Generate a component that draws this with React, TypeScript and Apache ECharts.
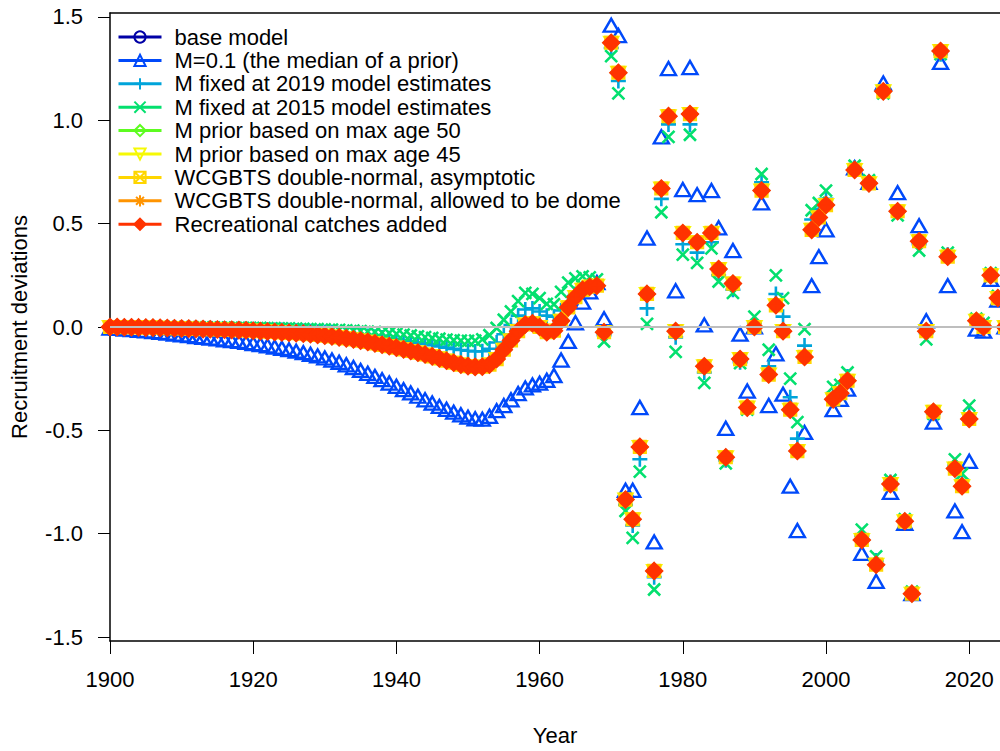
import React, { useEffect, useRef } from 'react';
import * as echarts from 'echarts';

const FIRST_YEAR = 1900;

const seriesNames = [
  'base model',
  'M=0.1 (the median of a prior)',
  'M fixed at 2019 model estimates',
  'M fixed at 2015 model estimates',
  'M prior based on max age 50',
  'M prior based on max age 45',
  'WCGBTS double-normal, asymptotic',
  'WCGBTS double-normal, allowed to be dome',
  'Recreational catches added',
];

const seriesColors = ['#0000A6', '#0049FA', '#00A4DA', '#03E06E', '#5DFC20', '#F6F905', '#FFD600', '#FF9400', '#FF3300'];

// early (1900-1969) recruitment deviations
const earlyBase = [
  0.000, 0.000, -0.001, -0.001, -0.002, -0.003, -0.003, -0.004, -0.005, -0.006,
  -0.007, -0.008, -0.009, -0.010, -0.011, -0.012, -0.013, -0.014, -0.015, -0.016,
  -0.018, -0.020, -0.022, -0.024, -0.026, -0.028, -0.030, -0.032, -0.035, -0.038,
  -0.042, -0.046, -0.050, -0.055, -0.060, -0.066, -0.072, -0.079, -0.086, -0.093,
  -0.100, -0.108, -0.116, -0.124, -0.133, -0.142, -0.152, -0.163, -0.173, -0.182,
  -0.189, -0.193, -0.192, -0.182, -0.155, -0.110, -0.065, -0.020, 0.012, 0.018,
  0.000, -0.025, -0.018, 0.030, 0.095, 0.145, 0.180, 0.195, 0.200, -0.025,
];
const earlyM01 = [
  -0.005, -0.007, -0.010, -0.013, -0.016, -0.019, -0.022, -0.026, -0.030, -0.034,
  -0.038, -0.042, -0.046, -0.050, -0.054, -0.058, -0.062, -0.066, -0.070, -0.075,
  -0.080, -0.085, -0.091, -0.097, -0.103, -0.110, -0.117, -0.124, -0.132, -0.140,
  -0.150, -0.160, -0.171, -0.183, -0.196, -0.210, -0.224, -0.239, -0.255, -0.271,
  -0.287, -0.303, -0.319, -0.335, -0.352, -0.368, -0.384, -0.398, -0.412, -0.425,
  -0.436, -0.444, -0.446, -0.432, -0.405, -0.380, -0.352, -0.322, -0.295, -0.280,
  -0.272, -0.258, -0.235, -0.160, -0.070, 0.020, 0.120, 0.170, 0.215, 0.040,
];
const earlyFix2019 = [
  0.000, 0.000, 0.000, -0.001, -0.001, -0.002, -0.002, -0.003, -0.003, -0.004,
  -0.004, -0.005, -0.005, -0.006, -0.006, -0.007, -0.008, -0.008, -0.009, -0.010,
  -0.011, -0.012, -0.013, -0.014, -0.015, -0.016, -0.018, -0.019, -0.021, -0.023,
  -0.025, -0.027, -0.030, -0.033, -0.036, -0.039, -0.043, -0.047, -0.051, -0.055,
  -0.060, -0.065, -0.070, -0.076, -0.082, -0.088, -0.094, -0.100, -0.106, -0.111,
  -0.115, -0.118, -0.117, -0.105, -0.075, -0.035, 0.010, 0.055, 0.085, 0.090,
  0.075, 0.055, 0.050, 0.080, 0.120, 0.160, 0.185, 0.195, 0.200, -0.040,
];
const earlyFix2015 = [
  0.000, 0.000, 0.000, 0.000, 0.000, 0.000, -0.001, -0.001, -0.001, -0.001,
  -0.002, -0.002, -0.002, -0.002, -0.003, -0.003, -0.003, -0.004, -0.004, -0.004,
  -0.005, -0.005, -0.006, -0.006, -0.007, -0.007, -0.008, -0.009, -0.010, -0.011,
  -0.012, -0.013, -0.014, -0.016, -0.018, -0.020, -0.022, -0.024, -0.027, -0.030,
  -0.033, -0.037, -0.041, -0.045, -0.049, -0.053, -0.057, -0.061, -0.064, -0.066,
  -0.067, -0.066, -0.060, -0.040, -0.005, 0.035, 0.075, 0.125, 0.165, 0.160,
  0.140, 0.112, 0.110, 0.170, 0.215, 0.235, 0.245, 0.240, 0.230, -0.070,
];

// main (1970-2025) recruitment deviations
const mainBase = [
  1.375, 1.23, -0.835, -0.93, -0.58, 0.16, -1.18, 0.67, 1.02, -0.02,
  0.455, 1.03, 0.41, -0.19, 0.455, 0.28, -0.63, 0.21, -0.155, -0.39,
  0.00, 0.66, -0.23, 0.105, -0.02, -0.40, -0.60, -0.145, 0.47, 0.53,
  0.59, -0.35, -0.32, -0.26, 0.76, -1.03, 0.695, -1.15, 1.14, -0.76,
  0.56, -0.94, -1.29, 0.415, -0.02, -0.41, 1.335, 0.34, -0.685, -0.77,
  -0.445, 0.03, 0.00, 0.25, 0.14, 0.00,
];
const mainM01 = [
  1.46, 1.41, -0.79, -0.79, -0.39, 0.43, -1.04, 0.92, 1.25, 0.175,
  0.665, 1.255, 0.64, 0.01, 0.66, 0.48, -0.49, 0.37, -0.035, -0.31,
  0.00, 0.60, -0.38, -0.13, -0.325, -0.77, -0.985, -0.51, 0.20, 0.34,
  0.47, -0.40, -0.35, -0.30, 0.77, -1.095, 0.70, -1.23, 1.18, -0.80,
  0.65, -0.95, -1.29, 0.49, 0.03, -0.46, 1.28, 0.20, -0.89, -0.99,
  -0.65, -0.01, -0.02, 0.23, 0.13, 0.00,
];
const mainFix2019 = [
  1.35, 1.19, -0.86, -0.96, -0.64, 0.09, -1.21, 0.62, 0.98, -0.05,
  0.40, 0.98, 0.36, -0.22, 0.41, 0.25, -0.645, 0.18, -0.17, -0.39,
  0.02, 0.70, -0.19, 0.16, 0.05, -0.34, -0.54, -0.09, 0.52, 0.57,
  0.62, -0.32, -0.30, -0.24, 0.77, -1.01, 0.70, -1.13, 1.14, -0.75,
  0.56, -0.94, -1.29, 0.40, -0.03, -0.42, 1.32, 0.35, -0.67, -0.74,
  -0.42, 0.03, 0.01, 0.25, 0.14, 0.00,
];
const mainFix2015 = [
  1.31, 1.13, -0.89, -1.02, -0.70, 0.015, -1.27, 0.555, 0.92, -0.12,
  0.35, 0.93, 0.31, -0.27, 0.38, 0.22, -0.66, 0.165, -0.175, -0.40,
  0.05, 0.74, -0.11, 0.25, 0.14, -0.25, -0.46, -0.01, 0.565, 0.60,
  0.66, -0.29, -0.28, -0.22, 0.78, -0.98, 0.71, -1.11, 1.13, -0.74,
  0.54, -0.93, -1.28, 0.37, -0.06, -0.42, 1.32, 0.36, -0.64, -0.71,
  -0.38, 0.04, 0.02, 0.26, 0.15, 0.00,
];

const xTickValues = [1900, 1920, 1940, 1960, 1980, 2000, 2020];
const yTickValues = [-1.5, -1.0, -0.5, 0, 0.5, 1.0, 1.5];

const FONT = "'Liberation Sans', Arial, Helvetica, sans-serif";

const SYM_PLUS = 'path://M5,0L5,10M0,5L10,5';
const SYM_CROSS = 'path://M0,0L10,10M10,0L0,10';
const SYM_INVTRI = 'path://M0,0L10,0L5,8.66Z';
const SYM_SQX = 'path://M0,0L10,0L10,10L0,10ZM0,0L10,10M10,0L0,10';
const SYM_STAR = 'path://M5,0L5,10M0,5L10,5M1.5,1.5L8.5,8.5M8.5,1.5L1.5,8.5';
const SYM_DIAPLUS = 'path://M5,0L10,5L5,10L0,5ZM5,0L5,10M0,5L10,5';

function toPairs(early: number[], main: number[]) {
  return early.concat(main).map((v, i) => [FIRST_YEAR + i, v]);
}

export default function App() {
  const ref = useRef<HTMLDivElement>(null);
  useEffect(() => {
    if (!ref.current) return;
    const chart = echarts.init(ref.current, undefined, { renderer: 'svg' });

    const baseData = toPairs(earlyBase, mainBase);
    const dataSets = [
      baseData,
      toPairs(earlyM01, mainM01),
      toPairs(earlyFix2019, mainFix2019),
      toPairs(earlyFix2015, mainFix2015),
      baseData,
      baseData,
      baseData,
      baseData,
      baseData,
    ];
    const symbols: any[] = ['circle', 'triangle', SYM_PLUS, SYM_CROSS, 'diamond', SYM_INVTRI, SYM_SQX, SYM_STAR, SYM_DIAPLUS];
    const sizes: any[] = [11, [15, 13], 15, 12, 15, [14, 12], 12, 14, 17];
    const filled = [false, false, false, false, false, false, false, false, true];
    const borderW = [2, 2.4, 2.6, 2.6, 2.2, 2.2, 2.2, 2.2, 1.5];

    const series: any[] = seriesNames.map((name, i) => {
      const col = seriesColors[i];
      const s: any = {
        name,
        type: 'line',
        data: dataSets[i],
        xAxisIndex: 0,
        yAxisIndex: 0,
        symbol: symbols[i],
        symbolSize: sizes[i],
        showSymbol: true,
        showAllSymbol: true,
        clip: false,
        silent: true,
        lineStyle: { color: col, width: 3, opacity: 0 },
        itemStyle: {
          color: filled[i] ? col : 'rgba(0,0,0,0)',
          borderColor: col,
          borderWidth: borderW[i],
        },
        emphasis: { disabled: true },
      };
      if (i === 0) {
        s.markLine = {
          silent: true,
          symbol: ['none', 'none'],
          label: { show: false },
          lineStyle: { color: '#BEBEBE', width: 2, type: 'solid' },
          data: [{ yAxis: 0 }],
        };
      }
      return s;
    });

    chart.setOption({
      animation: false,
      backgroundColor: '#ffffff',
      grid: { left: 109, right: 0, top: 13, bottom: 108 },
      legend: {
        orient: 'vertical',
        left: 112,
        top: 21,
        itemWidth: 43,
        itemHeight: 14,
        itemGap: 1.4,
        selectedMode: false,
        textStyle: { fontSize: 22, fontFamily: FONT, color: '#000', lineHeight: 22, padding: [0, 0, 0, 8] },
        lineStyle: { width: 3, opacity: 1 },
        data: seriesNames,
      },
      xAxis: [
        {
          type: 'value',
          min: 1900,
          max: 2024.3,
          position: 'bottom',
          name: 'Year',
          nameLocation: 'middle',
          nameGap: 83,
          nameTextStyle: { fontSize: 22, fontFamily: FONT, color: '#000' },
          axisLine: { show: true, onZero: false, lineStyle: { color: '#000', width: 1.5 } },
          axisTick: { show: true, length: 13, customValues: xTickValues, lineStyle: { color: '#000', width: 1 } },
          axisLabel: {
            show: true,
            customValues: xTickValues,
            margin: 27,
            fontSize: 22,
            fontFamily: FONT,
            color: '#000',
            formatter: (v: number) => String(Math.round(v)),
          },
          splitLine: { show: false },
        },
        {
          type: 'value',
          min: 1900,
          max: 2024.3,
          position: 'top',
          axisLine: { show: true, onZero: false, lineStyle: { color: '#000', width: 1.5 } },
          axisTick: { show: false },
          axisLabel: { show: false },
          splitLine: { show: false },
        },
      ],
      yAxis: {
        type: 'value',
        min: -1.519,
        max: 1.519,
        name: 'Recruitment deviations',
        nameLocation: 'middle',
        nameGap: 80,
        nameTextStyle: { fontSize: 22, fontFamily: FONT, color: '#000' },
        axisLine: { show: true, onZero: false, lineStyle: { color: '#000', width: 1.5 } },
        axisTick: { show: true, length: 12, customValues: yTickValues, lineStyle: { color: '#000', width: 1 } },
        axisLabel: {
          show: true,
          customValues: yTickValues,
          margin: 27,
          fontSize: 22,
          fontFamily: FONT,
          color: '#000',
          formatter: (v: number) => v.toFixed(1),
        },
        splitLine: { show: false },
      },
      series,
    });

    return () => chart.dispose();
  }, []);

  return <div ref={ref} style={{ position: 'absolute', left: 0, top: 0, width: 1000, height: 751 }} />;
}
